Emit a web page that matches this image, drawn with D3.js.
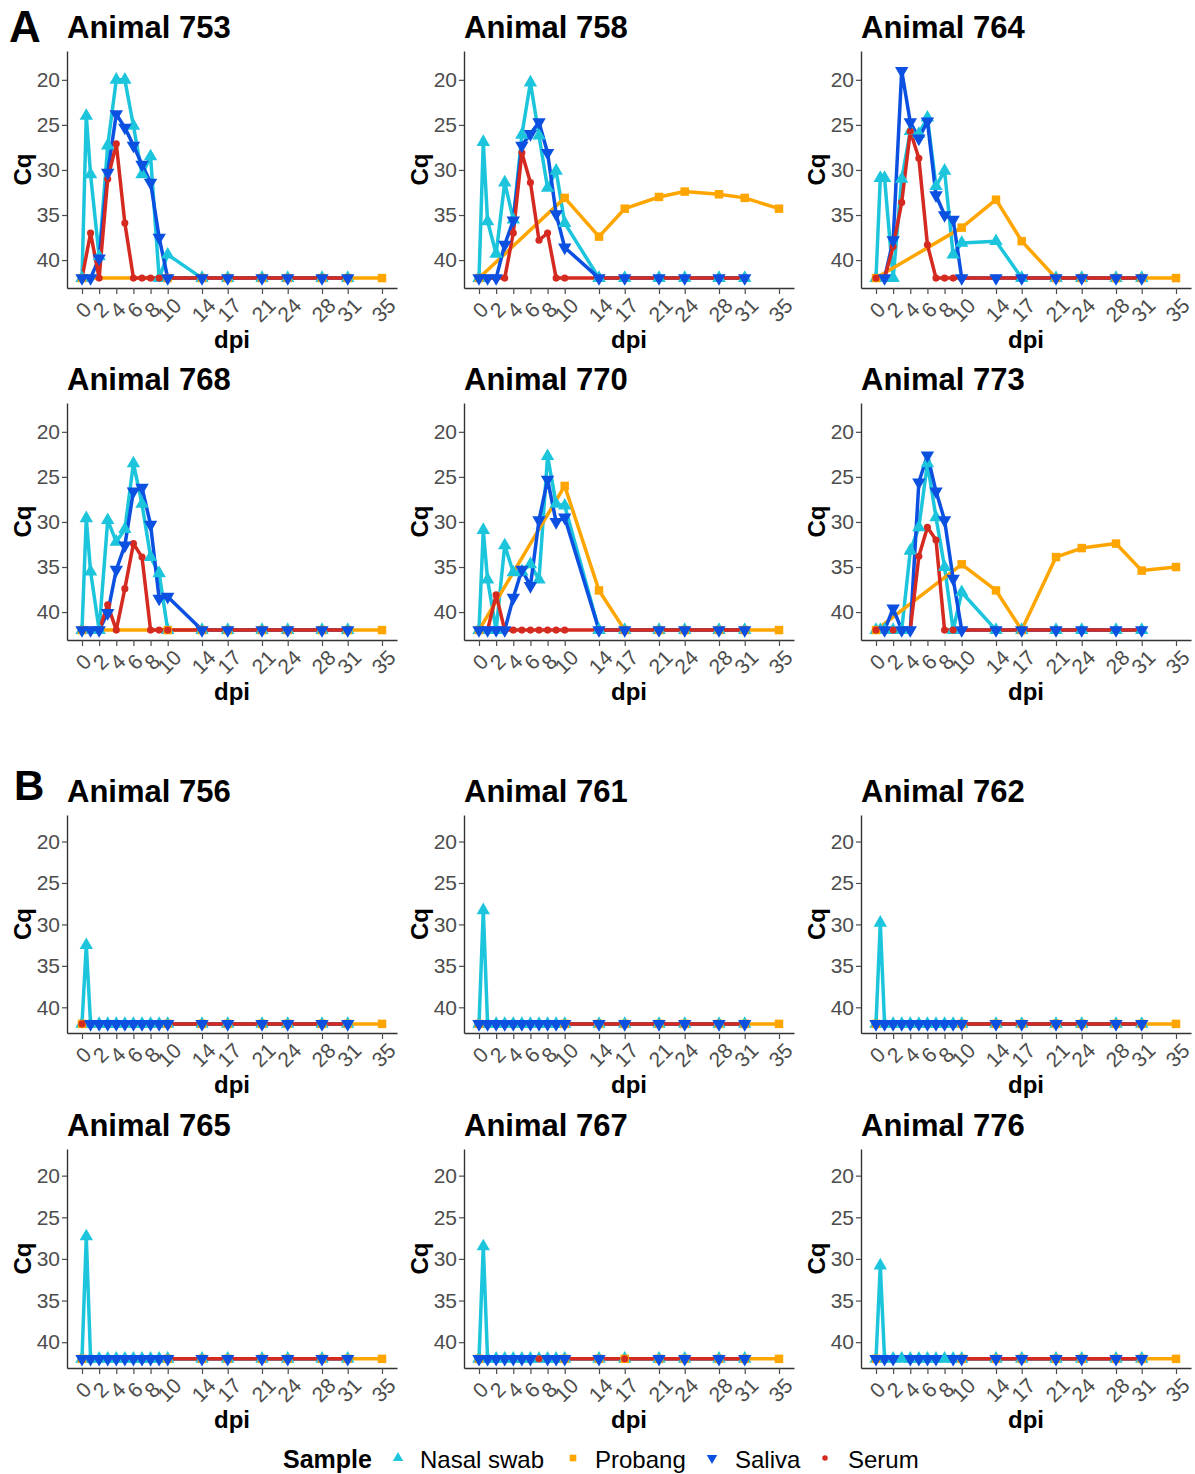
<!DOCTYPE html>
<head>
  <meta charset="utf-8">
  <script src="https://d3js.org/d3.v7.min.js"></script>
  <style>
    body { margin: 0; background: #fff; font-family: "Liberation Sans", Arial, sans-serif; }
    .tick text { font-size: 21px; fill: #4d4d4d; }
    .tick line { stroke: #4d4d4d; stroke-width: 1.2px; }
    .domain { stroke: #333; stroke-width: 1.4px; }
    .title { font-size: 31px; font-weight: bold; }
    .axis-title { font-size: 24px; font-weight: bold; }
    .section { font-weight: bold; }
    .legend text { font-size: 24px; }
  </style>
</head>
<body>
<script>
// ---- data (Cq values; 42 = not detected) ----
var animals = ["753", "758", "764", "768", "770", "773", "756", "761", "762", "765", "767", "776"];
var samples = ["Nasal swab", "Probang", "Saliva", "Serum"];
var colors = ["#1cc5dc", "#ffa500", "#0b50e0", "#d42a20"];

var xTicks = [0, 2, 4, 6, 8, 10, 14, 17, 21, 24, 28, 31, 35];
var yTicks = [20, 25, 30, 35, 40];

var nasalDays = [0, 0.5, 1, 2, 3, 4, 5, 6, 7, 8, 9, 10, 14, 17, 21, 24, 28, 31];
var salivaDays = [0, 1, 2, 3, 4, 5, 6, 7, 8, 9, 10, 14, 17, 21, 24, 28, 31];
var serumDays = [0, 1, 2, 3, 4, 5, 6, 7, 8, 9, 10, 14, 17, 21, 24, 28, 31];
var probangDays = [0, 10, 14, 17, 21, 24, 28, 31, 35];

var nasalCq = {
  "753": [42, 24.0, 30.5, 39.6, 27.3, 20.0, 20.0, 25.1, 30.5, 28.5, 42, 39.4, 42, 42, 42, 42, 42, 42],
  "758": [42, 26.9, 35.7, 39.3, 31.4, 35.5, 26.1, 20.3, 26.2, 32.0, 30.1, 35.9, 42, 42, 42, 42, 42, 42],
  "764": [42, 30.9, 30.9, 42, 31.0, 25.7, 26.0, 24.2, 31.8, 30.1, 39.4, 38.1, 37.9, 42, 42, 42, 42, 42],
  "768": [42, 29.6, 35.5, 42, 29.8, 32.2, 30.8, 23.5, 28.0, 33.9, 35.7, 42, 42, 42, 42, 42, 42, 42],
  "770": [42, 30.9, 36.4, 42, 32.6, 35.6, 35.5, 34.7, 36.4, 22.7, 28.0, 28.2, 42, 42, 42, 42, 42, 42],
  "773": [42, 42, 42, 42, 42, 33.2, 30.6, 23.5, 29.5, 35.0, 42, 37.8, 42, 42, 42, 42, 42, 42],
  "756": [42, 32.5, 42, 42, 42, 42, 42, 42, 42, 42, 42, 42, 42, 42, 42, 42, 42, 42],
  "761": [42, 28.3, 42, 42, 42, 42, 42, 42, 42, 42, 42, 42, 42, 42, 42, 42, 42, 42],
  "762": [42, 29.8, 42, 42, 42, 42, 42, 42, 42, 42, 42, 42, 42, 42, 42, 42, 42, 42],
  "765": [42, 27.3, 42, 42, 42, 42, 42, 42, 42, 42, 42, 42, 42, 42, 42, 42, 42, 42],
  "767": [42, 28.5, 42, 42, 42, 42, 42, 42, 42, 42, 42, 42, 42, 42, 42, 42, 42, 42],
  "776": [42, 30.8, 42, 42, 42, 42, 42, 42, 42, 42, 42, 42, 42, 42, 42, 42, 42, 42]
};

var salivaCq = {
  "753": [42, 42, 39.8, 30.3, 23.8, 25.3, 27.3, 29.4, 31.4, 37.5, 42, 42, 42, 42, 42, 42, 42],
  "758": [42, 42, 42, 38.3, 35.6, 27.3, 26.0, 24.7, 28.1, 34.9, 38.6, 42, 42, 42, 42, 42, 42],
  "764": [null, 42, 37.8, 19.0, 24.7, 26.5, 24.6, 32.8, 35.0, 35.5, 42, 42, 42, 42, 42, 42, 42],
  "768": [42, 42, 42, 40.1, 35.3, 32.6, 26.6, 26.2, 30.3, 38.5, 38.3, 42, 42, 42, 42, 42, 42],
  "770": [42, 42, 42, 42, 38.4, 35.3, 37.1, 29.8, 25.3, 30.0, 29.5, 42, 42, 42, 42, 42, 42],
  "773": [null, 42, 39.6, 42, 42, 25.6, 22.6, 26.6, 29.8, 36.3, 42, 42, 42, 42, 42, 42, 42],
  "756": [null, 42, 42, 42, 42, 42, 42, 42, 42, 42, 42, 42, 42, 42, 42, 42, 42],
  "761": [42, 42, 42, 42, 42, 42, 42, 42, 42, 42, 42, 42, 42, 42, 42, 42, 42],
  "762": [42, 42, 42, 42, 42, 42, 42, 42, 42, 42, 42, 42, 42, 42, 42, 42, 42],
  "765": [42, 42, 42, 42, 42, 42, 42, 42, 42, 42, 42, 42, 42, 42, 42, 42, 42],
  "767": [42, 42, 42, 42, 42, 42, 42, null, 42, 42, 42, 42, null, 42, 42, 42, 42],
  "776": [42, 42, 42, null, 42, 42, 42, 42, null, 42, 42, 42, 42, 42, 42, 42, 42]
};

var serumCq = {
  "753": [42, 37.0, 42, 31.0, 27.1, 35.9, 42, 42, 42, 42, 42, 42, 42, 42, 42, 42, 42],
  "758": [42, 42, 42, 42, 37.0, 28.1, 31.4, 37.8, 37.0, 42, 42, 42, 42, 42, 42, 42, 42],
  "764": [42, 42, 38.5, 33.6, 25.7, 28.7, 38.3, 42, 42, 42, 42, 42, 42, 42, 42, 42, 42],
  "768": [42, 42, 42, 39.2, 42, 37.4, 32.4, 33.9, 42, 42, 42, 42, 42, 42, 42, 42, 42],
  "770": [42, 42, 38.1, 42, 42, 42, 42, 42, 42, 42, 42, 42, 42, 42, 42, 42, 42],
  "773": [42, 42, 42, 42, 42, 33.8, 30.6, 32.0, 42, 42, 42, 42, 42, 42, 42, 42, 42],
  "756": [42, 42, 42, 42, 42, 42, 42, 42, 42, 42, 42, 42, 42, 42, 42, 42, 42],
  "761": [42, 42, 42, 42, 42, 42, 42, 42, 42, 42, 42, 42, 42, 42, 42, 42, 42],
  "762": [42, 42, 42, 42, 42, 42, 42, 42, 42, 42, 42, 42, 42, 42, 42, 42, 42],
  "765": [42, 42, 42, 42, 42, 42, 42, 42, 42, 42, 42, 42, 42, 42, 42, 42, 42],
  "767": [42, 42, 42, 42, 42, 42, 42, 42, 42, 42, 42, 42, 42, 42, 42, 42, 42],
  "776": [42, 42, 42, null, 42, 42, 42, 42, null, 42, 42, 42, 42, 42, 42, 42, 42]
};

var probangCq = {
  "753": [42, 42, 42, 42, 42, 42, 42, 42, 42],
  "758": [42, 33.1, 37.4, 34.3, 33.0, 32.4, 32.7, 33.1, 34.3],
  "764": [42, 36.4, 33.3, 37.9, 42, 42, 42, 42, 42],
  "768": [42, 42, 42, 42, 42, 42, 42, 42, 42],
  "770": [42, 26.0, 37.6, 42, 42, 42, 42, 42, 42],
  "773": [42, 34.7, 37.6, 42, 33.9, 32.9, 32.4, 35.4, 35.0],
  "756": [42, 42, 42, 42, 42, 42, 42, 42, 42],
  "761": [42, 42, 42, 42, 42, 42, 42, 42, 42],
  "762": [42, 42, 42, 42, 42, 42, 42, 42, 42],
  "765": [42, 42, 42, 42, 42, 42, 42, 42, 42],
  "767": [42, 42, 42, 42, 42, 42, 42, 42, 42],
  "776": [42, 42, 42, 42, 42, 42, 42, 42, 42]
};

// ---- layout ----
var width = 1195, height = 1474;
var colX = [67, 464, 861];
var rowTop = [51, 403, 815, 1149];
var rowH = [237, 237, 218, 219];
var panelW = 330;

var svg = d3.select("body").append("svg")
  .attr("width", width)
  .attr("height", height)
  .style("font-family", "'Liberation Sans', Arial, sans-serif");

var symTri = d3.symbol().type(d3.symbolTriangle);
var symSq = d3.symbol().type(d3.symbolSquare);
var symCircle = d3.symbol().type(d3.symbolCircle);

// marker for each sample: path + rotation
function marker(i, scale) {
  scale = scale || 1;
  if (i == 0) return { d: symTri.size(78 * scale)(), rot: 0 };
  if (i == 1) return { d: symSq.size(72 * scale)(), rot: 0 };
  if (i == 2) return { d: symTri.size(78 * scale)(), rot: 180 };
  return { d: symCircle.size(40 * scale)(), rot: 0 };
}

function seriesFor(id) {
  function pts(days, vals) {
    return days.map(function(d, i) { return { day: d, cq: vals[i] }; })
      .filter(function(p) { return p.cq != null; });
  }
  return [
    pts(nasalDays, nasalCq[id]),
    pts(probangDays, probangCq[id]),
    pts(salivaDays, salivaCq[id]),
    pts(serumDays, serumCq[id])
  ];
}

animals.forEach(function(id, k) {
  var r = Math.floor(k / 3), c = k % 3;
  var x0 = colX[c], top = rowTop[r], h = rowH[r];

  var x = d3.scaleLinear().domain([-1.75, 36.75]).range([x0, x0 + panelW]);
  var y = d3.scaleLinear().domain([16.8, 43.1]).range([top, top + h]);

  var g = svg.append("g");

  g.append("text")
    .attr("class", "title")
    .attr("x", x0)
    .attr("y", top - 13)
    .text("Animal " + id);

  var yAxis = g.append("g")
    .attr("transform", "translate(" + x0 + ",0)")
    .call(d3.axisLeft(y).tickValues(yTicks).tickSize(5).tickSizeOuter(0).tickPadding(2));

  var xAxis = g.append("g")
    .attr("transform", "translate(0," + (top + h) + ")")
    .call(d3.axisBottom(x).tickValues(xTicks).tickSize(6).tickSizeOuter(0));

  xAxis.selectAll(".tick text")
    .attr("y", 0)
    .attr("dy", "0.35em")
    .attr("text-anchor", "middle")
    .attr("transform", "translate(1,22) rotate(-45)");

  [xAxis, yAxis].forEach(function(a) { a.attr("font-family", null).attr("font-size", null); });

  g.append("text")
    .attr("class", "axis-title")
    .attr("text-anchor", "middle")
    .attr("transform", "translate(" + (x0 - 36) + "," + (top + h / 2) + ") rotate(-90)")
    .text("Cq");

  g.append("text")
    .attr("class", "axis-title")
    .attr("text-anchor", "middle")
    .attr("x", x0 + panelW / 2)
    .attr("y", top + h + 60)
    .text("dpi");

  var series = seriesFor(id);
  var line = d3.line()
    .x(function(d) { return x(d.day); })
    .y(function(d) { return y(d.cq); });

  // lines first, all samples
  series.forEach(function(s, i) {
    g.append("path")
      .datum(s)
      .attr("fill", "none")
      .attr("stroke", colors[i])
      .attr("stroke-width", 3.5)
      .attr("stroke-linejoin", "round")
      .attr("d", line);
  });

  // then points (serum below saliva)
  [0, 1, 3, 2].forEach(function(i) {
    var m = marker(i);
    g.append("g").selectAll("path")
      .data(series[i])
      .enter().append("path")
      .attr("d", m.d)
      .attr("fill", colors[i])
      .attr("transform", function(d) {
        return "translate(" + x(d.day) + "," + y(d.cq) + ") rotate(" + m.rot + ")";
      });
  });
});

// section letters
svg.append("text").attr("class", "section").attr("x", 9).attr("y", 42)
  .style("font-size", "44px").text("A");
svg.append("text").attr("class", "section").attr("x", 14).attr("y", 800)
  .style("font-size", "42px").text("B");

// legend
var legend = svg.append("g").attr("class", "legend");
var legendY = 1468;
legend.append("text")
  .attr("x", 283).attr("y", legendY)
  .style("font-weight", "bold").style("font-size", "25px")
  .text("Sample");

var legendKeyX = [398, 573, 712, 825];
var legendTextX = [420, 595, 735, 848];
samples.forEach(function(s, i) {
  var m = marker(i, 0.6);
  legend.append("path")
    .attr("d", m.d)
    .attr("fill", colors[i])
    .attr("transform", "translate(" + legendKeyX[i] + "," + (legendY - 10) + ") rotate(" + m.rot + ")");
  legend.append("text")
    .attr("x", legendTextX[i]).attr("y", legendY)
    .text(s);
});
</script>
</body>
